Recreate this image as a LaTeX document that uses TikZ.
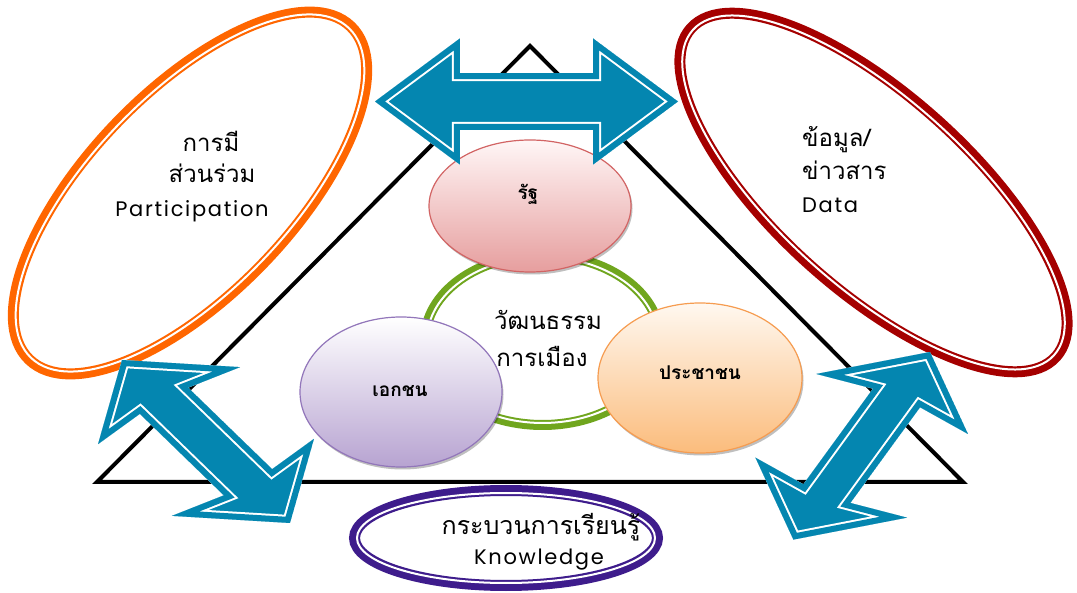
\documentclass[tikz,border=0pt]{standalone}
\usepackage{fontspec}
\newfontfamily\thai[Script=Thai]{Loma}
\newfontfamily\latin[LetterSpace=8]{Poppins}
\definecolor{arrblue}{RGB}{4,134,176}
\definecolor{orng}{RGB}{255,102,0}
\definecolor{dred}{RGB}{165,0,0}
\definecolor{dpurp}{RGB}{62,28,140}
\definecolor{grn}{RGB}{112,166,30}
\definecolor{pinkline}{RGB}{210,100,100}
\definecolor{pinktop}{RGB}{255,246,246}
\definecolor{pinkbot}{RGB}{230,158,158}
\definecolor{lavline}{RGB}{146,118,186}
\definecolor{lavtop}{RGB}{255,255,255}
\definecolor{lavbot}{RGB}{183,163,209}
\definecolor{peachline}{RGB}{246,156,80}
\definecolor{peachtop}{RGB}{255,248,240}
\definecolor{peachbot}{RGB}{251,188,124}
\newcommand\mkpt[3]{%
  \pgfmathsetmacro\tmpx{\acx+(#2)*\aax+(#3)*\abx}%
  \pgfmathsetmacro\tmpy{\acy+(#2)*\aay+(#3)*\aby}%
  \coordinate (#1) at (\tmpx,\tmpy);}
\newcommand\dblarrow[9]{%
  \def\acx{#1}\def\acy{#2}\def\aax{#3}\def\aay{#4}\def\abx{#5}\def\aby{#6}%
  \pgfmathsetmacro\ahl{#7}\pgfmathsetmacro\ahn{#8}\pgfmathsetmacro\asw{#9}%
  \mkpt{q1}{-1}{0}\mkpt{q2}{-1+\ahl}{1}\mkpt{q3}{-1+\ahn}{\asw}%
  \mkpt{q4}{1-\ahn}{\asw}\mkpt{q5}{1-\ahl}{1}\mkpt{q6}{1}{0}%
  \mkpt{q7}{1-\ahl}{-1}\mkpt{q8}{1-\ahn}{-\asw}\mkpt{q9}{-1+\ahn}{-\asw}%
  \mkpt{q10}{-1+\ahl}{-1}%
  \begin{scope}
    \clip (q1)--(q2)--(q3)--(q4)--(q5)--(q6)--(q7)--(q8)--(q9)--(q10)--cycle;
    \fill[arrblue] (q1)--(q2)--(q3)--(q4)--(q5)--(q6)--(q7)--(q8)--(q9)--(q10)--cycle;
    \draw[white,line width=16pt,line join=miter] (q1)--(q2)--(q3)--(q4)--(q5)--(q6)--(q7)--(q8)--(q9)--(q10)--cycle;
    \draw[arrblue,line width=12pt,line join=miter] (q1)--(q2)--(q3)--(q4)--(q5)--(q6)--(q7)--(q8)--(q9)--(q10)--cycle;
  \end{scope}}
\begin{document}
\begin{tikzpicture}[x=1pt,y=-1pt,
  thaitxt/.style={font=\thai\fontsize{24}{28}\selectfont,inner sep=0pt,anchor=base},
  thaibold/.style={font=\thai\bfseries\fontsize{19}{22}\selectfont,inner sep=0pt,anchor=base},
  lattxt/.style={font=\latin\fontsize{21}{25}\selectfont,inner sep=0pt,anchor=base},
  smallell/.style={line width=1.2pt},
  shad/.style={fill=black,opacity=0.25}]
\useasboundingbox (0,0) rectangle (1077,593);
\fill[white] (0,0) rectangle (1077,593);
% triangle
\draw[line width=4pt,line join=miter] (530,46) -- (963,482) -- (97,482) -- cycle;
% green ring
\draw[grn,line width=10pt] (542.5,340) ellipse [x radius=117.5pt,y radius=85pt];
\draw[white,line width=2pt] (542.5,340) ellipse [x radius=115.5pt,y radius=83pt];
% small ellipses (with soft shadow)
\fill[shad] (531.5,208.5) ellipse [x radius=101pt,y radius=66pt];
\fill[shad] (402.5,394.5) ellipse [x radius=101pt,y radius=75pt];
\fill[shad] (701.5,380.5) ellipse [x radius=102pt,y radius=75pt];
\draw[smallell,pinkline,top color=pinktop,bottom color=pinkbot] (530,206) ellipse [x radius=101pt,y radius=66pt];
\draw[smallell,lavline,top color=lavtop,bottom color=lavbot] (401,392) ellipse [x radius=101pt,y radius=75pt];
\draw[smallell,peachline,top color=peachtop,bottom color=peachbot] (700,378) ellipse [x radius=102pt,y radius=75pt];
% big ellipses
\begin{scope}[rotate around={46:(190,193)}]
\draw[orng,line width=11pt] (190,193) ellipse [x radius=231.5pt,y radius=101.5pt];
\draw[white,line width=2pt] (190,193) ellipse [x radius=229pt,y radius=99pt];
\end{scope}
\begin{scope}[rotate around={-42:(873.5,192.5)}]
\draw[dred,line width=11pt] (873.5,192.5) ellipse [x radius=245.5pt,y radius=96.5pt];
\draw[white,line width=2pt] (873.5,192.5) ellipse [x radius=243pt,y radius=94pt];
\end{scope}
\draw[dpurp,line width=11pt] (506,538) ellipse [x radius=151.5pt,y radius=47.5pt];
\draw[white,line width=2pt] (506,538) ellipse [x radius=149pt,y radius=45pt];
% texts
\node[thaibold] (rat) at (528,200) {รัฐ};
\node[thaibold] (ekachon) at (400,397) {เอกชน};
\node[thaibold] (prachachon) at (700,380) {ประชาชน};
\node[thaitxt] (wat) at (548,330) {วัฒนธรรม};
\node[thaitxt] (kanmueang) at (542,367) {การเมือง};
\node[thaitxt] (kanmi) at (211,152) {การมี};
\node[thaitxt] (suanruam) at (212,183) {ส่วนร่วม};
\node[lattxt] (partic) at (192,217) {Participation};
\node[thaitxt,anchor=base west] (khomun) at (802,147) {ข้อมูล/};
\node[thaitxt,anchor=base west] (khaosan) at (802,180) {ข่าวสาร};
\node[lattxt,anchor=base west] (data) at (802,213) {Data};
\node[thaitxt,font=\thai\fontsize{25}{29}\selectfont] (krabuan) at (541,535) {กระบวนการเรียนรู้};
\node[lattxt] (know) at (539,565) {Knowledge};
% arrows
\dblarrow{526.5}{101.5}{151.5}{0}{0}{63}{0.56}{0.56}{0.45}
\dblarrow{206}{441.5}{84}{81.5}{71}{-38.5}{0.56}{0.50}{0.34}
\dblarrow{861.7}{445.8}{68.3}{-93.8}{75.8}{30}{0.554}{0.49}{0.31}
\end{tikzpicture}
\end{document}
